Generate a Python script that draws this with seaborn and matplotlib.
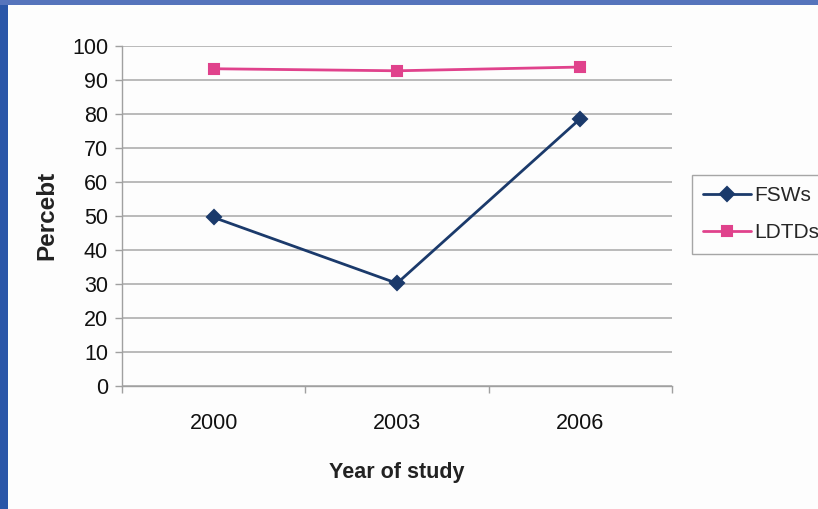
import matplotlib
matplotlib.use("Agg")
import matplotlib.pyplot as plt
import seaborn as sns
import pandas as pd
from matplotlib.patches import Rectangle

years = ["2000", "2003", "2006"]
fsws = [49.5, 30.1, 78.6]
ldtds = [93.3, 92.7, 93.8]
series_names = ["FSWs", "LDTDs"]
yticks = [0, 10, 20, 30, 40, 50, 60, 70, 80, 90, 100]

df = pd.DataFrame({
    "year": years * 2,
    "value": fsws + ldtds,
    "group": [series_names[0]] * 3 + [series_names[1]] * 3,
})

sns.set_theme(style="white")
plt.rcParams["font.family"] = ["Liberation Sans", "DejaVu Sans"]

fig = plt.figure(figsize=(8.18, 5.09), dpi=100, facecolor="#FDFDFD")
ax = fig.add_axes([122 / 818, 1 - 385.5 / 509, (672 - 122) / 818, (385.5 - 46) / 509])
ax.set_facecolor("#FDFDFD")

navy = "#1B3A6B"
pink = "#E0428C"
sns.pointplot(data=df, x="year", y="value", hue="group", order=years,
              hue_order=series_names, palette=[navy, pink],
              markers=["D", "s"], linestyles=["-", "-"], ax=ax,
              markersize=7, linewidth=2, errorbar=None)

ax.set_xlim(-0.5, 2.5)
ax.set_ylim(0, 100)
ax.set_yticks(yticks)
ax.set_yticklabels([str(t) for t in yticks])
ax.yaxis.grid(True, color="#A8A8A8", linewidth=1.1)
ax.xaxis.grid(False)
for s in ["top", "right"]:
    ax.spines[s].set_visible(False)
for s in ["left", "bottom"]:
    ax.spines[s].set_color("#A0A0A0")
    ax.spines[s].set_linewidth(1.0)

ax.tick_params(axis="y", which="major", length=5, width=1, color="#A0A0A0",
               direction="out", labelsize=15.5, pad=5, labelcolor="#111111", left=True)
ax.set_xticks([-0.5, 0.5, 1.5, 2.5], minor=True)
ax.tick_params(axis="x", which="minor", length=5, width=1, color="#A0A0A0",
               direction="out", bottom=True)
ax.tick_params(axis="x", which="major", length=0, labelsize=15.5, pad=20,
               labelcolor="#111111")

ax.set_xlabel("Year of study", fontsize=15.5, fontweight="bold", labelpad=20,
              color="#222222")
ax.set_ylabel("Percebt", fontsize=17.5, fontweight="bold", labelpad=10,
              color="#222222")

leg = ax.legend(loc="upper left", bbox_to_anchor=(692 / 818, 1 - 175 / 509),
                bbox_transform=fig.transFigure, frameon=True, fontsize=15,
                handlelength=2.3, handletextpad=0.15, borderpad=0.55,
                labelspacing=0.85, fancybox=False, borderaxespad=0)
leg.get_frame().set_edgecolor("#909090")
leg.get_frame().set_linewidth(1.0)
leg.get_frame().set_facecolor("#FDFDFD")

# slide frame strips
fig.patches.append(Rectangle((0, 0), 8 / 818, 1, transform=fig.transFigure,
                             facecolor="#2A56A8", edgecolor="none", zorder=0))
fig.patches.append(Rectangle((0, 1 - 5 / 509), 1, 5 / 509, transform=fig.transFigure,
                             facecolor="#5674BC", edgecolor="none", zorder=0))

fig.savefig("out.png", dpi=100, facecolor=fig.get_facecolor())
